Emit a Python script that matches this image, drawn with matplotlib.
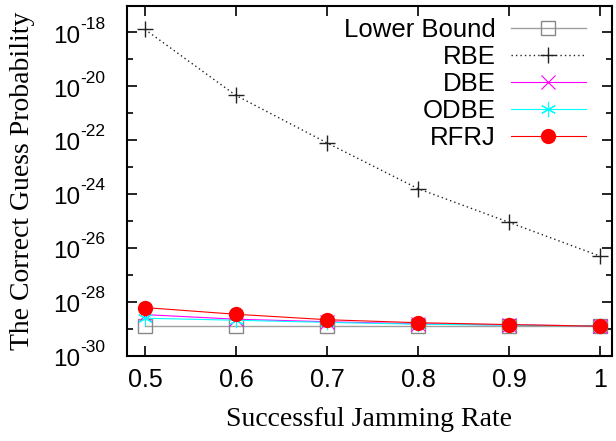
import numpy as np
import matplotlib
matplotlib.use("Agg")
import matplotlib.pyplot as plt
import matplotlib.transforms as mtransforms
from matplotlib.ticker import FixedLocator, NullFormatter

# --- data ---
jam_rate = [0.5, 0.6, 0.7, 0.8, 0.9, 1.0]
lower_bound = [1.3e-29, 1.3e-29, 1.3e-29, 1.3e-29, 1.3e-29, 1.3e-29]
rbe = [1.3e-18, 4.6e-21, 8.0e-23, 1.6e-24, 9.0e-26, 5.0e-27]
dbe = [3.4e-29, 2.3e-29, 1.85e-29, 1.55e-29, 1.4e-29, 1.3e-29]
odbe = [2.5e-29, 2.1e-29, 1.75e-29, 1.5e-29, 1.38e-29, 1.3e-29]
rfrj = [6.2e-29, 3.5e-29, 2.2e-29, 1.7e-29, 1.45e-29, 1.26e-29]
x_ticks = [0.5, 0.6, 0.7, 0.8, 0.9, 1.0]
x_tick_labels = ["0.5", "0.6", "0.7", "0.8", "0.9", "1"]
y_major_exp = [-30, -28, -26, -24, -22, -20, -18]
y_minor_exp = [-29, -27, -25, -23, -21, -19, -17]

plt.rcParams['font.family'] = ['Liberation Sans', 'DejaVu Sans']

fig = plt.figure(figsize=(6.16, 4.41), dpi=100)
ax = fig.add_axes([0.2057, 0.193, 0.7878, 0.7945])

ax.plot(jam_rate, lower_bound, color='#a0a0a0', linewidth=1.0, marker='s',
        markersize=10.5, markerfacecolor='none', markeredgecolor='#888888',
        markeredgewidth=1.0, label='Lower Bound')
ax.plot(jam_rate, rbe, color='#222222', linestyle=(0, (1, 2.2)), linewidth=1.0,
        marker='+', markersize=11, markeredgewidth=1.0, label='RBE')
ax.plot(jam_rate, dbe, color='#ff00ff', linewidth=0.8, marker='x',
        markersize=10, markeredgewidth=0.8, label='DBE')
ax.plot(jam_rate, odbe, color='#00ffff', linewidth=0.8, marker=(6, 2, 0),
        markersize=11, markeredgewidth=0.8, label='ODBE')
ax.plot(jam_rate, rfrj, color='#ff0000', linewidth=0.8, marker='o',
        markersize=11, markeredgewidth=0, label='RFRJ')

ax.set_yscale('log')
ax.set_ylim(1e-30, 1e-17)
ax.set_xlim(0.48, 1.013)

ax.yaxis.set_major_locator(FixedLocator([10.0 ** e for e in y_major_exp]))
ax.yaxis.set_major_formatter(NullFormatter())
ax.yaxis.set_minor_locator(FixedLocator([10.0 ** e for e in y_minor_exp]))
ax.yaxis.set_minor_formatter(NullFormatter())
ax.set_xticks(x_ticks)
ax.set_xticklabels(x_tick_labels)

# gnuplot-like "10^-18" labels: base and exponent as two texts
blend = mtransforms.blended_transform_factory(ax.transAxes, ax.transData)
base_tr = blend + mtransforms.ScaledTranslation(0, -3 / 72, fig.dpi_scale_trans)
exp_tr = blend + mtransforms.ScaledTranslation(0, 6 / 72, fig.dpi_scale_trans)
for e in y_major_exp:
    ax.text(-0.096, 10.0 ** e, '10', transform=base_tr, ha='right', va='center',
            fontsize=17.5)
    ax.text(-0.096, 10.0 ** e, str(e), transform=exp_tr, ha='left', va='center',
            fontsize=12.5)

ax.tick_params(which='both', direction='in', top=True, right=True,
               width=1.2, labelsize=18)
ax.tick_params(which='major', length=7)
ax.tick_params(which='minor', length=4)
ax.tick_params(axis='x', pad=9)
for s in ax.spines.values():
    s.set_linewidth(1.5)

ax.set_xlabel('Successful Jamming Rate', family='Liberation Serif', fontsize=20)
ax.set_ylabel('The Correct Guess Probability', family='Liberation Serif', fontsize=20)
ax.xaxis.set_label_coords(0.5, -0.145)
ax.yaxis.set_label_coords(-0.19, 0.5)

ax.legend(loc='upper right', frameon=False, markerfirst=False, fontsize=18.5,
          handlelength=2.9, labelspacing=0.11, borderaxespad=0.1,
          handletextpad=0.6, bbox_to_anchor=(0.972, 1.0))

fig.savefig('out.png', dpi=100)
